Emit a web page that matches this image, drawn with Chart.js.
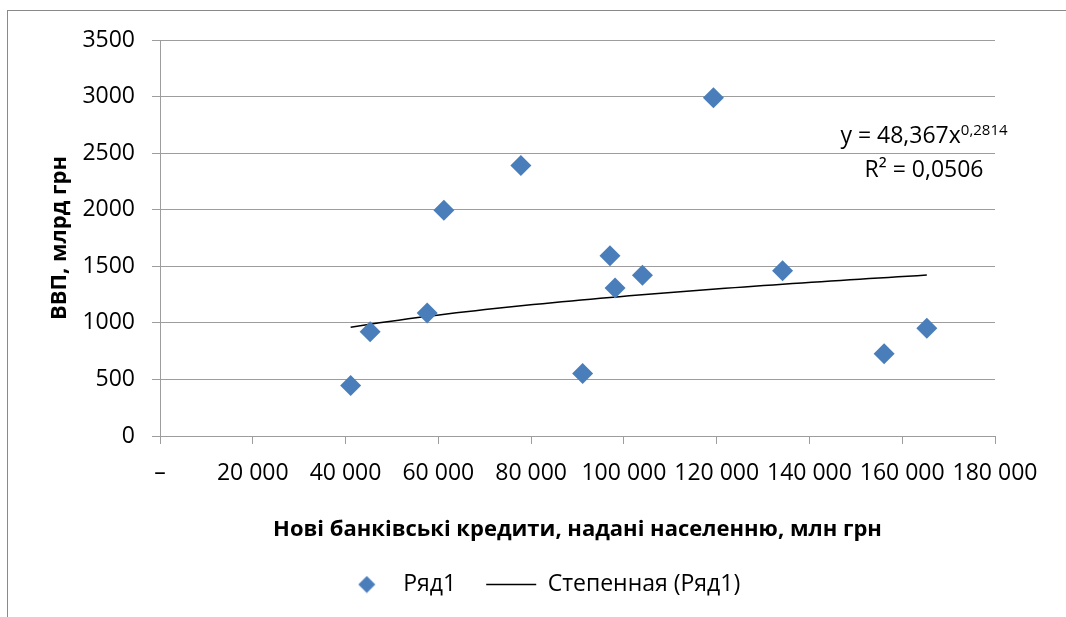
<!DOCTYPE html>
<html>
<head>
<meta charset="utf-8">
<script src="https://cdn.jsdelivr.net/npm/chart.js@4.4.0/dist/chart.umd.min.js"></script>
<style>
  html, body { margin: 0; padding: 0; background: #fff; }
  #wrap { position: relative; width: 1066px; height: 617px; }
  #frame {
    position: absolute; left: 7px; top: 10px; right: 0; bottom: 0;
    border-left: 1.5px solid #8a8a8a; border-top: 1.5px solid #8a8a8a;
  }
  canvas { position: absolute; left: 0; top: 0; }
</style>
</head>
<body>
<div id="wrap">
  <div id="frame"></div>
  <canvas id="chart" width="1066" height="617"></canvas>
</div>
<script>
// Нові кредити населенню (млн грн) проти ВВП (млрд грн)
const credits = [41100, 45300, 57600, 61200, 77800, 91100, 97000, 98100, 104000, 119300, 134200, 156100, 165300];
const gdp = [447, 921, 1088, 1996, 2390, 553, 1593, 1309, 1420, 2990, 1461, 727, 952];

const xTickLabels = ["–", "20 000", "40 000", "60 000", "80 000", "100 000", "120 000", "140 000", "160 000", "180 000"];
const yTickLabels = ["0", "500", "1000", "1500", "2000", "2500", "3000", "3500"];

// power trendline from the chart: y = 48,367 x^0,2814
const trendA = 48.367;
const trendB = 0.2814;
const eqMain = "y = 48,367x";
const eqPow = "0,2814";
const eqR2 = "R² = 0,0506";

const FONT = "'Open Sans', 'Noto Sans', sans-serif";
const BLUE = "#4a7ebb";

const xMin = Math.min(...credits);
const xMax = Math.max(...credits);
const trend = [];
for (let i = 0; i <= 60; i++) {
    const x = xMin + (xMax - xMin) * i / 60;
    trend.push({ x: x, y: trendA * Math.pow(x, trendB) });
}

// small diamond for the legend (rectRot gets stretched by pointStyleWidth)
const diamondIcon = document.createElement("canvas");
diamondIcon.width = 18;
diamondIcon.height = 18;
(() => {
    const c = diamondIcon.getContext("2d");
    c.fillStyle = BLUE;
    c.beginPath();
    c.moveTo(9, 0.5);
    c.lineTo(17.5, 9);
    c.lineTo(9, 17.5);
    c.lineTo(0.5, 9);
    c.closePath();
    c.fill();
})();

const trendLabel = {
    id: "trendLabel",
    afterLayout(chart) {
        // legend is centred under the whole frame, not under the plot
        chart.legend.left += 87;
    },
    afterDatasetsDraw(chart) {
        const { ctx, chartArea } = chart;
        const cx = chartArea.right - 71;
        ctx.save();
        ctx.fillStyle = "#000";
        ctx.textBaseline = "alphabetic";
        ctx.font = "23px " + FONT;
        const w1 = ctx.measureText(eqMain).width;
        ctx.font = "15px " + FONT;
        const w2 = ctx.measureText(eqPow).width;
        const x0 = cx - (w1 + w2) / 2;
        ctx.textAlign = "left";
        ctx.font = "23px " + FONT;
        ctx.fillText(eqMain, x0, chartArea.top + 103);
        ctx.font = "15px " + FONT;
        ctx.fillText(eqPow, x0 + w1, chartArea.top + 95);
        ctx.font = "23px " + FONT;
        ctx.textAlign = "center";
        ctx.fillText(eqR2, cx, chartArea.top + 137);
        ctx.restore();
    }
};

new Chart(document.getElementById("chart"), {
    type: "scatter",
    data: {
        datasets: [
            {
                label: "Ряд1",
                data: credits.map((c, i) => ({ x: c, y: gdp[i] })),
                pointStyle: "rectRot",
                pointRadius: 10.5,
                backgroundColor: BLUE,
                borderColor: BLUE,
                borderWidth: 0,
            },
            {
                label: "Степенная (Ряд1)",
                data: trend,
                showLine: true,
                pointRadius: 0,
                pointStyle: "line",
                borderColor: "#000",
                backgroundColor: "#000",
                borderWidth: 1.5,
            },
        ],
    },
    options: {
        responsive: false,
        animation: false,
        devicePixelRatio: 1,
        layout: { padding: { left: 0, right: 71, top: 40, bottom: 11 } },
        plugins: {
            tooltip: { enabled: false },
            legend: {
                position: "bottom",
                labels: {
                    usePointStyle: true,
                    pointStyleWidth: 50,
                    boxHeight: 12,
                    padding: 30,
                    color: "#000",
                    font: { family: FONT, size: 23 },
                    generateLabels(chart) {
                        const items = Chart.defaults.plugins.legend.labels.generateLabels(chart);
                        items[0].pointStyle = diamondIcon;
                        return items;
                    },
                },
            },
        },
        scales: {
            x: {
                type: "linear",
                min: 0,
                max: 180000,
                afterFit: (s) => { s.height = 107; },
                ticks: {
                    stepSize: 20000,
                    padding: 16,
                    color: "#000",
                    font: { family: FONT, size: 23 },
                    maxRotation: 0,
                    autoSkip: false,
                    callback: (v, i) => xTickLabels[i],
                },
                grid: { drawOnChartArea: false, tickLength: 8, color: "#9d9d9d" },
                border: { color: "#9d9d9d" },
                title: {
                    display: true,
                    text: "Нові банківські кредити, надані населенню, млн грн",
                    color: "#000",
                    font: { family: FONT, size: 22, weight: "bold" },
                    padding: { top: 18, bottom: 0 },
                },
            },
            y: {
                min: 0,
                max: 3500,
                afterFit: (s) => { s.width = 160; },
                ticks: {
                    stepSize: 500,
                    padding: 17,
                    color: "#000",
                    font: { family: FONT, size: 23 },
                    callback: (v, i) => yTickLabels[i],
                },
                grid: { tickLength: 8, color: "#9d9d9d" },
                border: { color: "#9d9d9d" },
                title: {
                    display: true,
                    text: "ВВП, млрд грн",
                    color: "#000",
                    font: { family: FONT, size: 22, weight: "bold" },
                    padding: { top: 47, bottom: 0 },
                },
            },
        },
    },
    plugins: [trendLabel],
});
</script>
</body>
</html>
